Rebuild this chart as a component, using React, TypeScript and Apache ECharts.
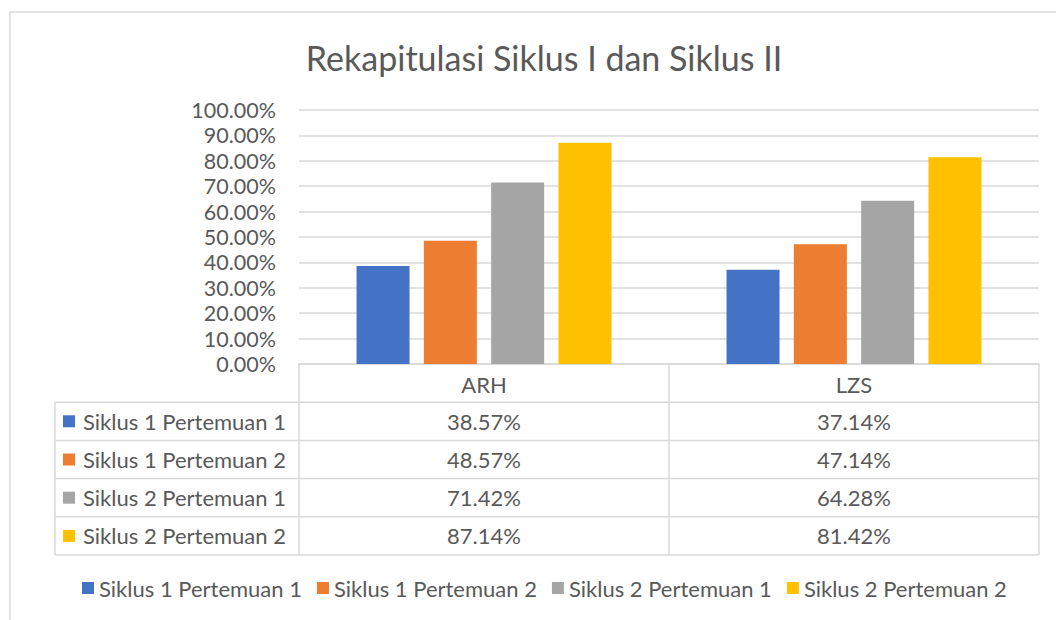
import React, { useEffect, useRef } from "react";
import * as echarts from "echarts";

const titleText = "Rekapitulasi Siklus I dan Siklus II";
const categories = ["ARH", "LZS"];
const seriesNames = [
  "Siklus 1 Pertemuan 1",
  "Siklus 1 Pertemuan 2",
  "Siklus 2 Pertemuan 1",
  "Siklus 2 Pertemuan 2",
];
const s1p1 = [0.3857, 0.3714];
const s1p2 = [0.4857, 0.4714];
const s2p1 = [0.7142, 0.6428];
const s2p2 = [0.8714, 0.8142];
const seriesValues = [s1p1, s1p2, s2p1, s2p2];
const colors = ["#4472C4", "#ED7D31", "#A5A5A5", "#FFC000"];
const yMin = 0;
const yMax = 1;
const yInterval = 0.1;

const FONT = "Lato, 'Open Sans', sans-serif";
const TEXT = "#595959";
const LINE = "#D9D9D9";

// layout
const W = 1056;
const H = 620;
const GL = 299;
const GR = 1039;
const GT = 110;
const GB = 364;
const ROW_H = 38.2;
const TL = 55;
const FS = 22;

const fmt = (v: number) => (v * 100).toFixed(2) + "%";

export default function App() {
  const ref = useRef<HTMLDivElement>(null);
  useEffect(() => {
    if (!ref.current) return;
    const chart = echarts.init(ref.current, null, { renderer: "svg" });
    const nRows = seriesNames.length;
    const tableBottom = GB + ROW_H * (nRows + 1);
    const colW = (GR - GL) / categories.length;
    const g: any[] = [];
    // outer border
    g.push({
      type: "rect",
      shape: { x: 10, y: 12, width: 1200, height: 800 },
      style: { fill: "none", stroke: LINE, lineWidth: 1.5 },
      silent: true,
      z: 0,
    });
    // horizontal table lines
    for (let r = 1; r <= nRows + 1; r++) {
      const y = GB + ROW_H * r;
      g.push({
        type: "line",
        shape: { x1: TL, y1: y, x2: GR, y2: y },
        style: { stroke: LINE, lineWidth: 1.5 },
      });
    }
    // vertical lines
    g.push({
      type: "line",
      shape: { x1: TL, y1: GB + ROW_H, x2: TL, y2: tableBottom },
      style: { stroke: LINE, lineWidth: 1.5 },
    });
    for (let c = 0; c <= categories.length; c++) {
      const x = GL + colW * c;
      g.push({
        type: "line",
        shape: { x1: x, y1: GB, x2: x, y2: tableBottom },
        style: { stroke: LINE, lineWidth: 1.5 },
      });
    }
    // row labels + values
    seriesNames.forEach((name, i) => {
      const cy = GB + ROW_H * (i + 1) + ROW_H / 2;
      g.push({
        type: "rect",
        shape: { x: 63, y: cy - 6, width: 12, height: 12 },
        style: { fill: colors[i] },
      });
      g.push({
        type: "text",
        x: 83,
        y: cy,
        style: {
          text: name,
          fill: TEXT,
          font: `${FS}px ${FONT}`,
          verticalAlign: "middle",
          align: "left",
        },
      });
      seriesValues[i].forEach((v, j) => {
        g.push({
          type: "text",
          x: GL + colW * j + colW / 2,
          y: cy,
          style: {
            text: fmt(v),
            fill: TEXT,
            font: `${FS}px ${FONT}`,
            verticalAlign: "middle",
            align: "center",
          },
        });
      });
    });

    chart.setOption({
      animation: false,
      backgroundColor: "#fff",
      title: {
        text: titleText,
        left: 539,
        top: 35,
        textAlign: "center",
        textStyle: { fontSize: 34, fontWeight: "normal", color: TEXT, fontFamily: FONT },
      },
      grid: { left: GL, right: W - GR, top: GT, bottom: H - GB, containLabel: false },
      legend: {
        bottom: 16,
        left: 77,
        icon: "rect",
        itemWidth: 12,
        itemHeight: 12,
        itemGap: 15,
        data: seriesNames,
        textStyle: { fontSize: FS, color: TEXT, fontFamily: FONT },
      },
      xAxis: {
        type: "category",
        data: categories,
        axisLine: { show: true, lineStyle: { color: LINE, width: 1.5 } },
        axisTick: { show: false },
        axisLabel: { margin: 9, fontSize: FS, color: TEXT, fontFamily: FONT },
      },
      yAxis: {
        type: "value",
        min: yMin,
        max: yMax,
        interval: yInterval,
        axisLine: { show: false },
        axisTick: { show: false },
        splitLine: { lineStyle: { color: LINE, width: 1.5 } },
        axisLabel: {
          margin: 23,
          fontSize: 21.5,
          color: TEXT,
          fontFamily: FONT,
          formatter: (v: number) => fmt(v),
        },
      },
      series: seriesNames.map((name, i) => ({
        name,
        type: "bar",
        data: seriesValues[i],
        barWidth: 53,
        barGap: "27%",
        itemStyle: { color: colors[i] },
      })),
      graphic: g,
    });
    return () => chart.dispose();
  }, []);
  return (
    <div
      ref={ref}
      style={{ position: "fixed", left: 0, top: 0, width: W, height: H }}
    />
  );
}
